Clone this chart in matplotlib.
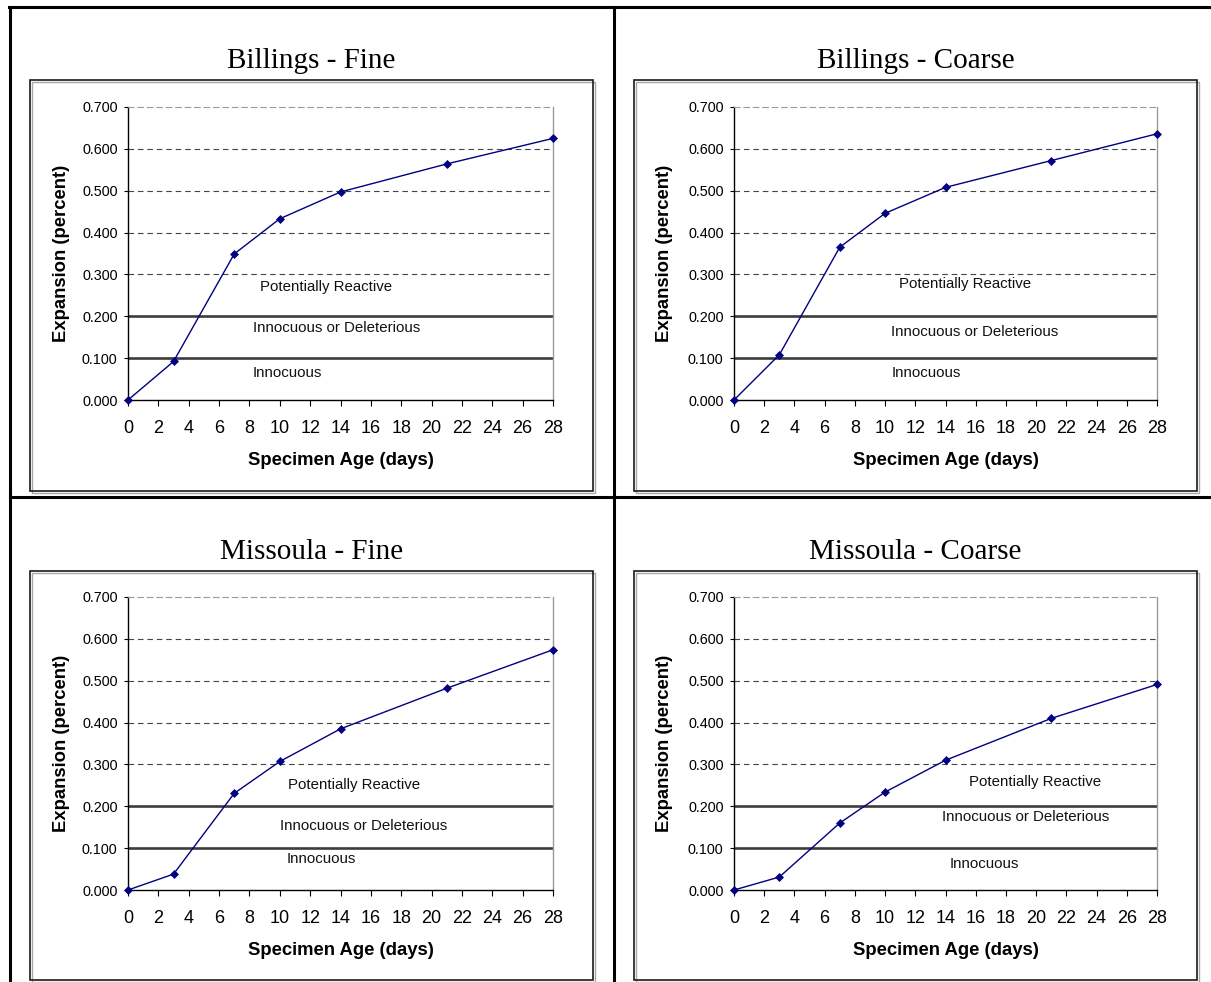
import matplotlib.pyplot as plt
import numpy as np
from matplotlib.patches import Rectangle
from matplotlib.lines import Line2D
from matplotlib.ticker import FormatStrFormatter

# expansion results (percent) at each specimen age (days)
ages = [0, 3, 7, 10, 14, 21, 28]

billings_fine = [0.000, 0.092, 0.349, 0.433, 0.497, 0.564, 0.625]
billings_coarse = [0.000, 0.108, 0.365, 0.446, 0.508, 0.572, 0.636]
missoula_fine = [0.000, 0.038, 0.231, 0.307, 0.385, 0.482, 0.574]
missoula_coarse = [0.000, 0.031, 0.160, 0.234, 0.310, 0.410, 0.491]

titles = ['Billings - Fine', 'Billings - Coarse', 'Missoula - Fine', 'Missoula - Coarse']
series = [billings_fine, billings_coarse, missoula_fine, missoula_coarse]

# ASTM C1260 limits
limits = [0.1, 0.2]
zone_names = ['Potentially Reactive', 'Innocuous or Deleterious', 'Innocuous']

W, H = 1211, 982
SANS = 'Liberation Sans'
SERIF = 'Liberation Serif'

# page layout in pixels: plot area, chart frame, title baseline, ylabel offset
plot_boxes = [(128, 107, 553, 400), (734, 107, 1157, 400),
              (128, 597, 553, 890), (734, 597, 1157, 890)]
frames = [(30, 80, 593, 491), (634, 80, 1197, 491),
          (30, 571, 593, 980), (634, 571, 1197, 980)]
title_y = [68, 68, 559, 559]
ylabel_x = [-0.157, -0.165, -0.157, -0.165]

# where the zone names sit inside each chart (day, expansion)
zone_pos = [
    [(13.05, 0.270), (13.75, 0.171), (10.5, 0.065)],
    [(15.3, 0.277), (15.95, 0.163), (12.7, 0.065)],
    [(14.9, 0.251), (15.5, 0.153), (12.75, 0.075)],
    [(19.95, 0.258), (19.3, 0.174), (16.6, 0.063)],
]

fig = plt.figure(figsize=(W / 100, H / 100), dpi=100)


def fig_line(xs, ys, **kw):
    fig.add_artist(Line2D([x / W for x in xs], [1 - y / H for y in ys],
                          transform=fig.transFigure, **kw))


# table grid around the four charts
fig_line([9, W], [7, 7], color='black', lw=2.2)
fig_line([10, 10], [7, H], color='black', lw=2.2)
fig_line([614, 614], [7, H], color='black', lw=2.2)
fig_line([10, W], [497, 497], color='black', lw=2.2)


def draw_chart(i):
    x0, y0, x1, y1 = frames[i]
    # frame with a faint shadow
    fig.add_artist(Rectangle(((x0 + 1.5) / W, 1 - (y1 + 1.5) / H), (x1 - x0) / W, (y1 - y0) / H,
                             transform=fig.transFigure, fill=False, ec='#a8a8a8', lw=1.0))
    fig.add_artist(Rectangle((x0 / W, 1 - y1 / H), (x1 - x0) / W, (y1 - y0) / H,
                             transform=fig.transFigure, fill=False, ec='#1a1a1a', lw=1.2))

    fig.text((x0 + x1) / 2 / W, 1 - title_y[i] / H, titles[i], ha='center', va='baseline',
             fontsize=21, family=SERIF)

    l, t, r, b = plot_boxes[i]
    ax = fig.add_axes([l / W, 1 - b / H, (r - l) / W, (b - t) / H])
    ax.set_xlim(0, 28)
    ax.set_ylim(0, 0.7)

    for y in [0.3, 0.4, 0.5, 0.6]:
        ax.axhline(y, color='#444444', lw=0.8, ls=(0, (5, 3.5)), zorder=1)
    for y in limits:
        ax.axhline(y, color='#3c3c3c', lw=1.9, zorder=1)

    ax.plot(ages, series[i], color='#000080', lw=1.0, marker='D', ms=4.2,
            mfc='#000080', mec='#000080', mew=0.5, clip_on=False, zorder=3)

    for name, (dx, dy) in zip(zone_names, zone_pos[i]):
        ax.text(dx, dy, name, ha='center', va='center', fontsize=10.8, family=SANS, color='#111111')

    ax.spines['top'].set_color('#9a9a9a')
    ax.spines['top'].set_linestyle((0, (5, 3.5)))
    ax.spines['top'].set_linewidth(0.8)
    ax.spines['right'].set_color('#9a9a9a')
    ax.spines['right'].set_linewidth(1.0)
    ax.spines['left'].set_linewidth(1.0)
    ax.spines['bottom'].set_linewidth(1.0)

    ax.set_xticks(np.arange(0, 29, 2))
    ax.set_yticks(np.arange(0, 0.71, 0.1))
    ax.yaxis.set_major_formatter(FormatStrFormatter('%.3f'))
    ax.tick_params(axis='y', direction='out', length=3, width=0.8, pad=4.5, labelsize=10.4)
    ax.tick_params(axis='x', direction='out', length=4.5, width=0.8, pad=10, labelsize=13)
    for lab in ax.get_xticklabels() + ax.get_yticklabels():
        lab.set_family(SANS)

    ax.set_xlabel('Specimen Age (days)', fontsize=13.3, fontweight='bold', family=SANS)
    ax.set_ylabel('Expansion (percent)', fontsize=13.3, fontweight='bold', family=SANS)
    ax.xaxis.set_label_coords(0.5, -0.205)
    ax.xaxis.label.set_va('center')
    ax.yaxis.set_label_coords(ylabel_x[i], 0.5)
    ax.yaxis.label.set_va('center')


for i in range(4):
    draw_chart(i)

plt.savefig('out.png', dpi=100)
